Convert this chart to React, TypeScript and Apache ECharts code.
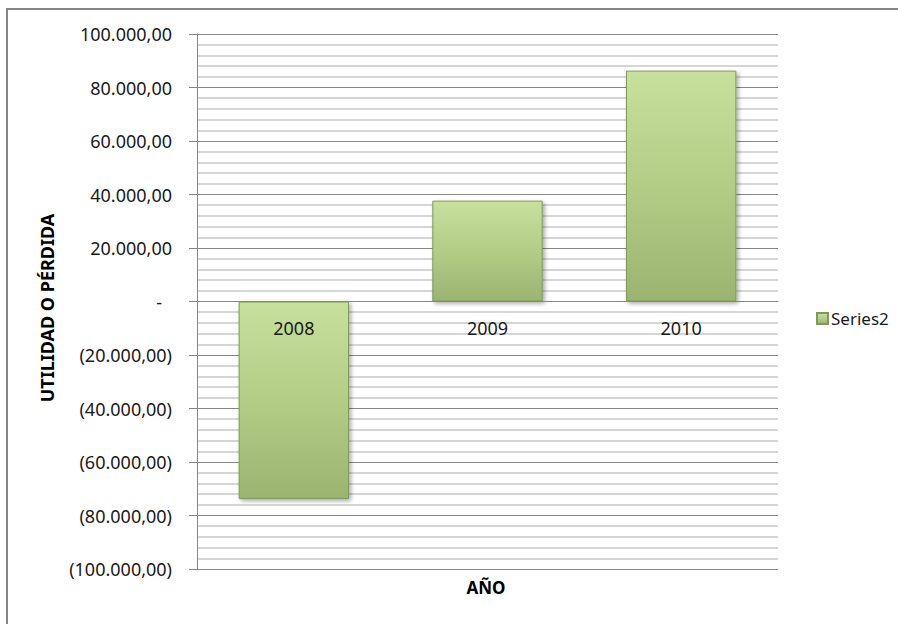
import React, { useEffect, useRef } from "react";
import * as echarts from "echarts";

const categories = ["2008", "2009", "2010"];
const seriesName = "Series2";
const values = [-73800, 37700, 86300];
const yMin = -100000;
const yMax = 100000;
const yInterval = 20000;

function fmtNum(v: number): string {
  const a = Math.abs(v);
  const int = Math.floor(a).toString().replace(/\B(?=(\d{3})+(?!\d))/g, ".");
  return int + ",00";
}

function yLabel(v: number): string {
  if (v === 0) return "{z|-}";
  if (v < 0) return "(" + fmtNum(v) + ")";
  return fmtNum(v);
}

export default function App() {
  const ref = useRef<HTMLDivElement>(null);
  useEffect(() => {
    if (!ref.current) return;
    const chart = echarts.init(ref.current, undefined, { renderer: "svg" });
    const font = "'Noto Sans', sans-serif";
    const gridTop = 34;
    const gridBottom = 55;
    const plotH = 624 - gridTop - gridBottom;
    chart.setOption({
      animation: false,
      backgroundColor: "#ffffff",
      textStyle: { fontFamily: font },
      grid: { left: 197, right: 120, top: gridTop, bottom: gridBottom, containLabel: false },
      legend: {
        data: [seriesName],
        left: 811,
        top: 305,
        icon: "rect",
        itemWidth: 11,
        itemHeight: 11,
        itemGap: 4,
        textStyle: { fontFamily: font, fontSize: 17, color: "#1a1a1a", padding: [0, 0, 0, -2] },
      },
      xAxis: {
        type: "category",
        data: categories,
        z: 10,
        position: "bottom",
        offset: -plotH / 2,
        axisLine: { show: true, onZero: false, lineStyle: { color: "#868686", width: 1 } },
        axisTick: { show: false },
        axisLabel: { margin: 17, fontSize: 18, color: "#1a1a1a", fontFamily: font },
        splitLine: { show: false },
      },
      yAxis: {
        type: "value",
        min: yMin,
        max: yMax,
        interval: yInterval,
        axisLine: { show: true, lineStyle: { color: "#868686", width: 1 } },
        axisTick: { show: true, length: 8, lineStyle: { color: "#868686" } },
        axisLabel: {
          margin: 25,
          fontSize: 18,
          color: "#1a1a1a",
          fontFamily: font,
          formatter: yLabel,
          rich: { z: { fontSize: 18, color: "#1a1a1a", fontFamily: font, padding: [0, 10, 0, 0] } },
        },
        splitLine: { show: true, lineStyle: { color: "#868686", width: 1 } },
        minorTick: { show: false, splitNumber: 5 },
        minorSplitLine: { show: true, lineStyle: { color: "#c8c8c8", width: 1.5 } },
      },
      series: [
        {
          name: seriesName,
          type: "bar",
          data: values,
          barWidth: "57%",
          itemStyle: {
            color: new echarts.graphic.LinearGradient(0, 0, 0, 1, [
              { offset: 0, color: "#c7e09c" },
              { offset: 0.5, color: "#b3cc86" },
              { offset: 1, color: "#9bb470" },
            ]),
            borderColor: "#7f9a58",
            borderWidth: 1,
            shadowColor: "rgba(0,0,0,0.35)",
            shadowBlur: 4,
            shadowOffsetX: 2,
            shadowOffsetY: 2,
          },
        },
      ],
      graphic: [
        {
          type: "rect",
          shape: { x: 7, y: 9, width: 1000, height: 1000 },
          style: { fill: "none", stroke: "#858585", lineWidth: 2 },
          silent: true,
        },
        {
          type: "text",
          x: 47,
          y: 308,
          rotation: Math.PI / 2,
          style: {
            text: "UTILIDAD O PÉRDIDA",
            fontFamily: font,
            fontSize: 18,
            fontWeight: "bold",
            fill: "#000000",
            textAlign: "center",
            textVerticalAlign: "middle",
          },
        },
        {
          type: "text",
          x: 486,
          y: 587,
          style: {
            text: "AÑO",
            fontFamily: font,
            fontSize: 17,
            fontWeight: "bold",
            fill: "#000000",
            textAlign: "center",
            textVerticalAlign: "middle",
          },
        },
      ],
    });
    return () => chart.dispose();
  }, []);
  return <div ref={ref} style={{ position: "fixed", left: 0, top: 0, width: 898, height: 624 }} />;
}
